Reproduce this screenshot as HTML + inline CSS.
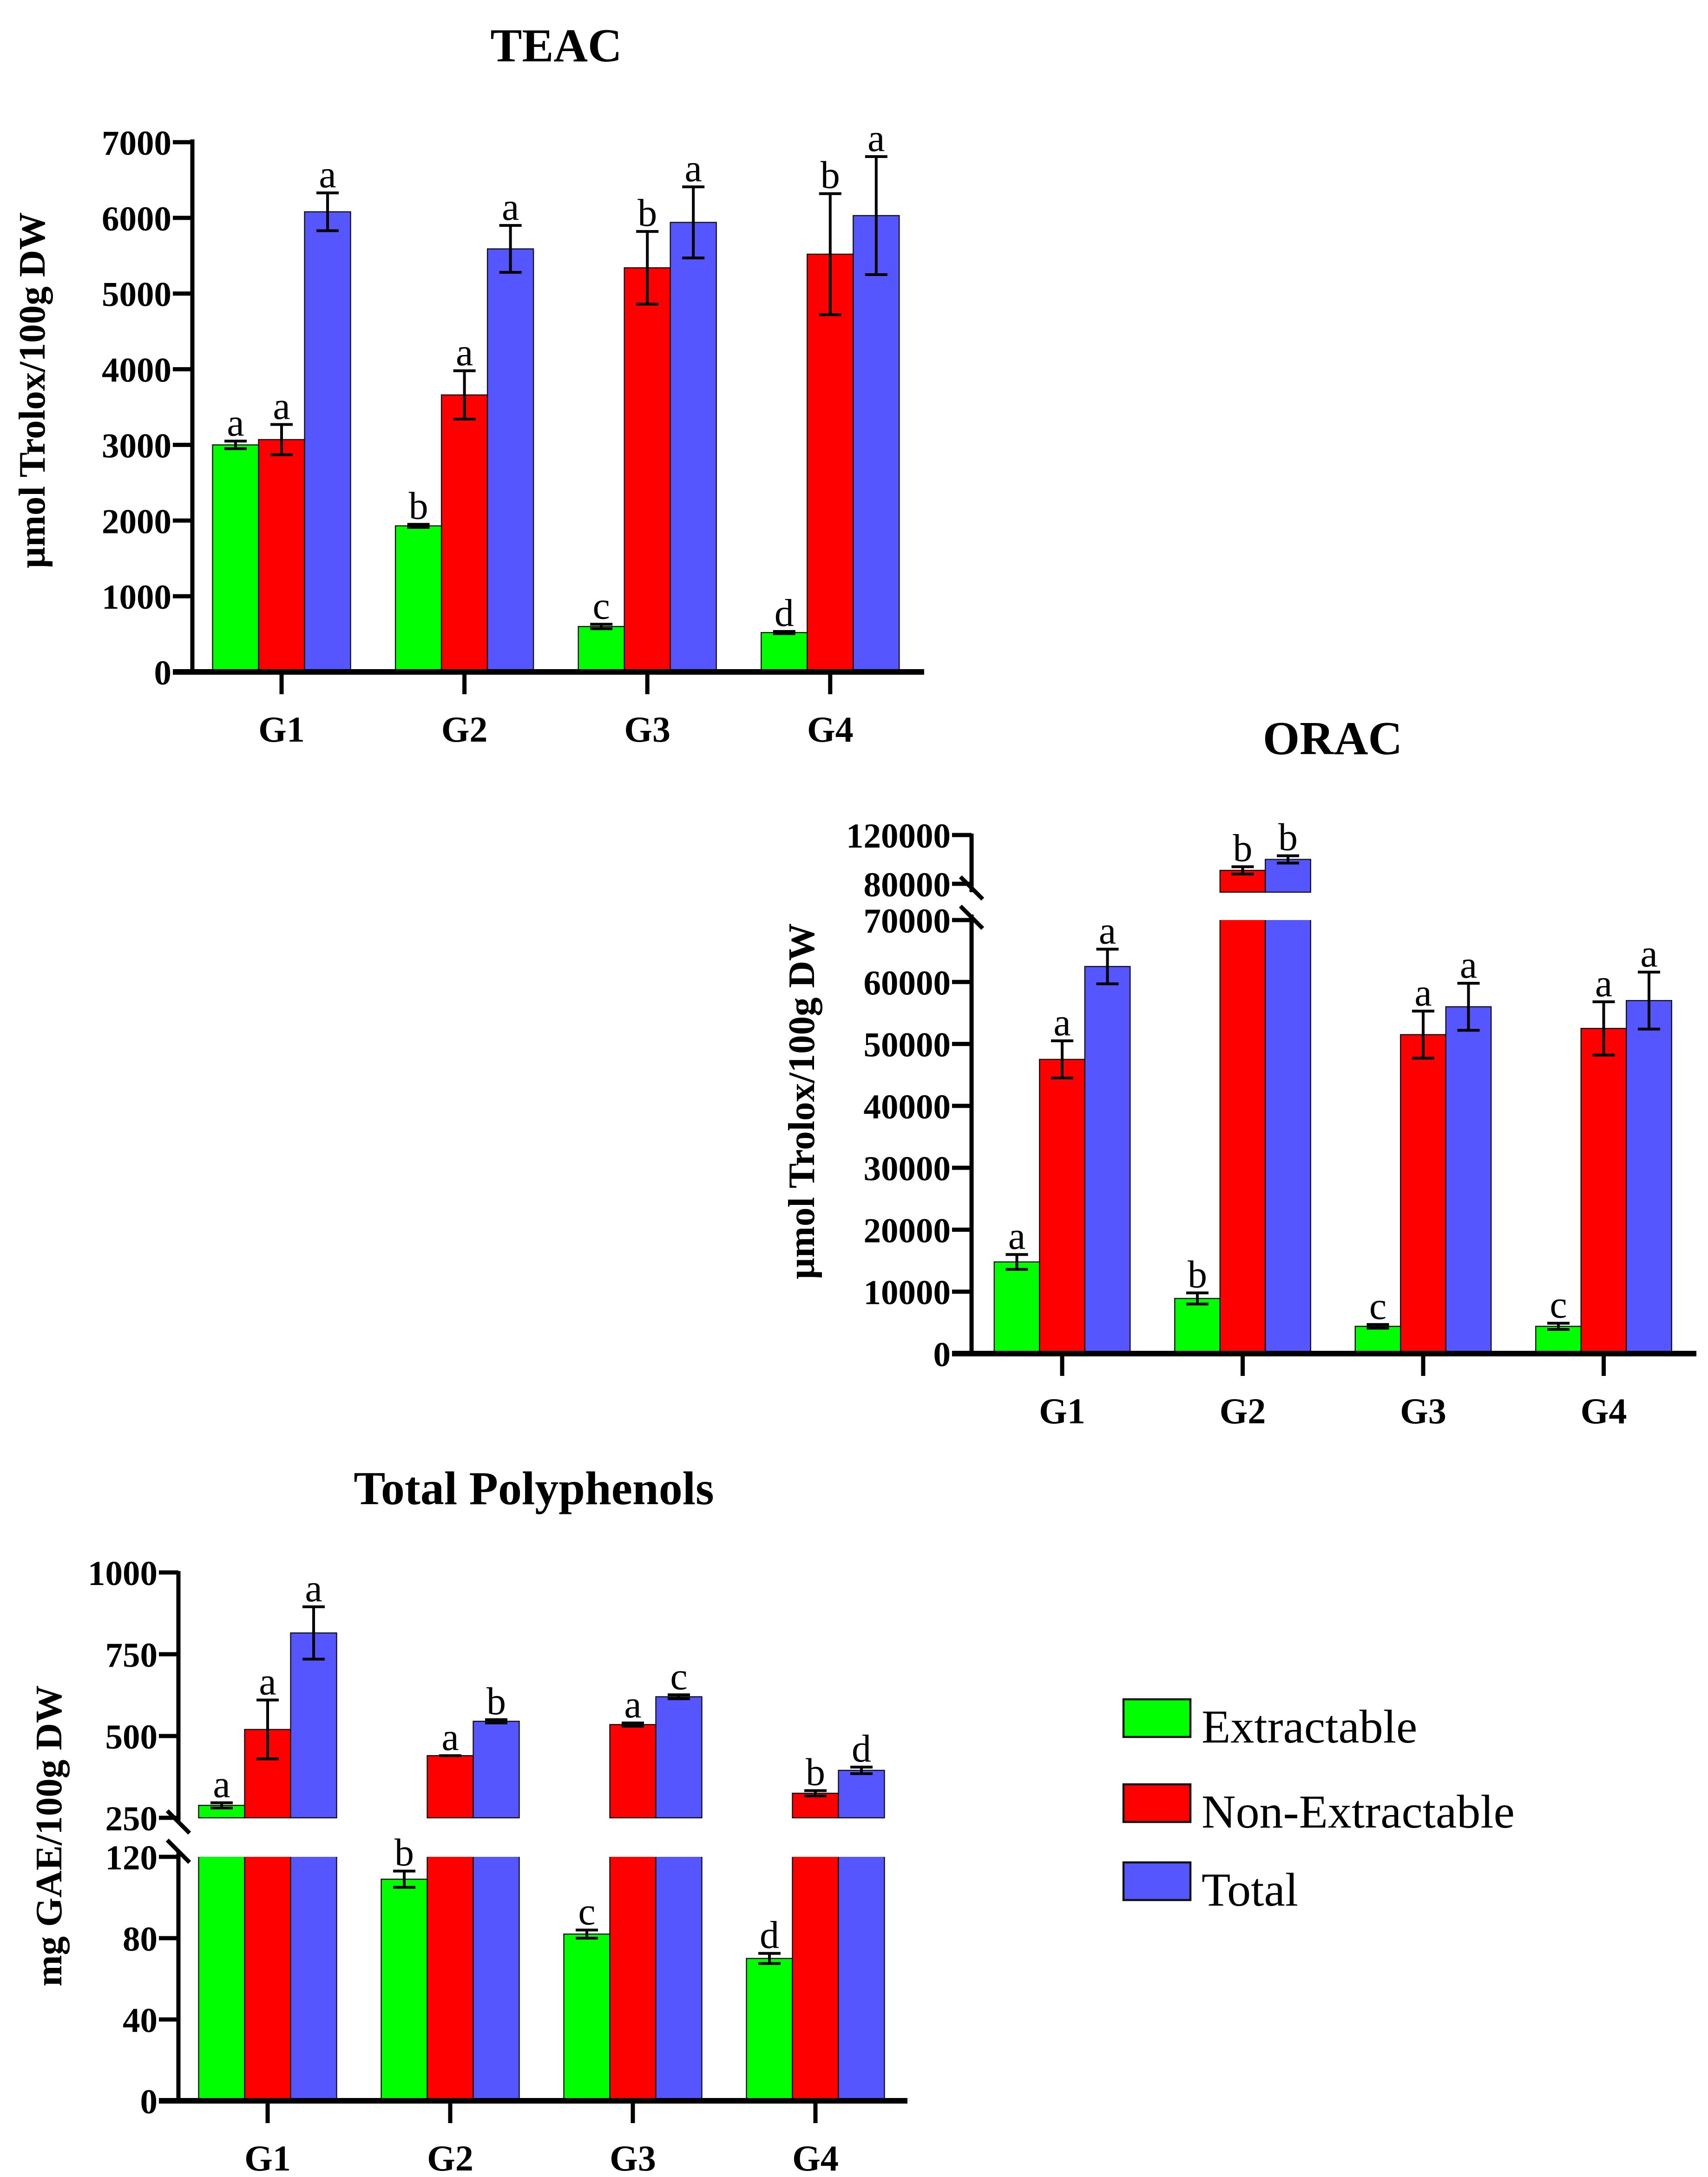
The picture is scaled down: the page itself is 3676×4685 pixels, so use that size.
<!DOCTYPE html>
<html><head><meta charset="utf-8"><style>
html,body{margin:0;padding:0;background:#fff;}
svg{display:block;}
</style></head><body>
<svg id="fig" xmlns="http://www.w3.org/2000/svg" width="3676" height="4685" viewBox="0 0 1225.33 1561.67" font-family="'Liberation Serif', serif"></svg>
<script>
const categories = ['G1','G2','G3','G4'];
// TEAC
const teacExt = [3000, 1930, 600, 520];
const teacExtErr = [50, 20, 30, 15];
const teacNon = [3070, 3660, 5340, 5520];
const teacNonErr = [200, 320, 480, 800];
const teacTot = [6080, 5590, 5940, 6030];
const teacTotErr = [250, 310, 470, 780];
const teacExtLet = ['a','b','c','d'];
const teacNonLet = ['a','a','b','b'];
const teacTotLet = ['a','a','a','a'];
const teacTicks = [0,1000,2000,3000,4000,5000,6000,7000];
// ORAC
const oracExt = [14800, 8900, 4400, 4400];
const oracExtErr = [1200, 900, 300, 500];
const oracNon = [47500, 91000, 51500, 52500];
const oracNonErr = [3000, 3000, 3800, 4300];
const oracTot = [62500, 100000, 56000, 57000];
const oracTotErr = [2800, 3000, 3800, 4600];
const oracExtLet = ['a','b','c','c'];
const oracNonLet = ['a','b','a','a'];
const oracTotLet = ['a','b','a','a'];
const oracTicksLow = [0,10000,20000,30000,40000,50000,60000,70000];
const oracTicksHigh = [80000,120000];
// Total polyphenols
const tpExt = [288, 109, 82, 70];
const tpExtErr = [8, 4, 2, 2.5];
const tpNon = [520, 440, 535, 325];
const tpNonErr = [90, 0, 5, 8];
const tpTot = [815, 545, 620, 395];
const tpTotErr = [80, 5, 6, 10];
const tpExtLet = ['a','b','c','d'];
const tpNonLet = ['a','a','a','b'];
const tpTotLet = ['a','b','c','d'];
const tpTicksLow = [0,40,80,120];
const tpTicksHigh = [250,500,750,1000];

const colors = ['#00ff00','#ff0000','#5656ff'];
const NS = 'http://www.w3.org/2000/svg';
const svg = document.getElementById('fig');
function mk(tag, attrs, parent){
  const e = document.createElementNS(NS, tag);
  for (const k in attrs) e.setAttribute(k, attrs[k]);
  (parent||svg).appendChild(e);
  return e;
}
function segY(seg, v){ return seg.p0 + (v - seg.v0) * (seg.p1 - seg.p0) / (seg.v1 - seg.v0); }

function drawChart(c){
  const g = mk('g', {});
  
  
  const t = mk('text', {x:c.titleX, y:c.titleY, 'text-anchor':'middle', 'font-size':34, 'font-weight':'bold'}, g);
  t.textContent = c.title;
  
  
  const yl = mk('text', {x:0, y:0, 'text-anchor':'middle', 'font-size':27, 'font-weight':'bold', transform:`translate(${c.ylX},${c.ylY}) rotate(-90)`}, g);
  yl.textContent = c.ylabel;
  
  
  const xs = i => c.x0 + i * c.step;
  const series = [[c.ext,c.extErr,c.extLet],[c.non,c.nonErr,c.nonLet],[c.tot,c.totErr,c.totLet]];
  const names = ['extractable','non-extractable','total'];
  series.forEach((s, si) => {
    s[0].forEach((v, i) => {
      const bx = xs(i) + (si - 1.5) * c.bw;
      c.segs.forEach(seg => {
        if (v > seg.v0) {
          const base = seg.base !== undefined ? seg.base : seg.p0;
          const clipped = v > seg.v1;
          const top = segY(seg, Math.min(v, seg.v1));
          const r = mk('rect', {x:bx, y:top, width:c.bw, height:base - top, fill:colors[si], stroke:clipped ? 'none' : '#111', 'stroke-width':0.8}, g);
          
          
          if (clipped) {
            const o = mk('path', {d:`M${bx},${top}V${base}H${bx + c.bw}V${top}`, fill:'none', stroke:'#111', 'stroke-width':0.8}, g);
            
            
          }
        }
      });
      const seg = c.segs.find(sg => v > sg.v0 && v <= sg.v1);
      if (seg) {
        const e = s[1][i];
        const cx = bx + c.bw/2;
        const yt = segY(seg, v + e), yb = segY(seg, v - e);
        const eb = mk('path', {d:`M${cx},${yt}V${yb}M${cx-8},${yt}H${cx+8}M${cx-8},${yb}H${cx+8}`, stroke:'#000', 'stroke-width':2, fill:'none'}, g);
        
        
        const lt = mk('text', {x:cx, y:yt - 4, 'text-anchor':'middle', 'font-size':28}, g);
        lt.textContent = s[2][i];
        
        
      }
    });
  });
  c.segs.forEach(seg => {
    const ax = mk('line', {x1:c.ax, x2:c.ax, y1:seg.a0, y2:seg.a1, stroke:'#000', 'stroke-width':3}, g);
    
    
    seg.ticks.forEach(tv => {
      const y = segY(seg, tv);
      const tk = mk('line', {x1:c.ax - 14, x2:c.ax, y1:y, y2:y, stroke:'#000', 'stroke-width':3}, g);
      
      
      const tl = mk('text', {x:c.ax - 15, y:y + 9, 'text-anchor':'end', 'font-size':25, 'font-weight':'bold'}, g);
      tl.textContent = tv;
      
      
    });
  });
  (c.slashes||[]).forEach(yy => {
    const sl = mk('line', {x1:c.ax - 8, y1:yy - 8, x2:c.ax + 8, y2:yy + 8, stroke:'#000', 'stroke-width':3}, g);
    
    
  });
  const base = c.segs[0].p0;
  const xa = mk('line', {x1:c.ax - 14, x2:c.xEnd, y1:base, y2:base, stroke:'#000', 'stroke-width':4}, g);
  
  
  categories.forEach((cat, i) => {
    const tk = mk('line', {x1:xs(i), x2:xs(i), y1:base, y2:base + 16, stroke:'#000', 'stroke-width':3}, g);
    
    
    const tl = mk('text', {x:xs(i), y:base + 50, 'text-anchor':'middle', 'font-size':26, 'font-weight':'bold'}, g);
    tl.textContent = cat;
    
    
  });
}

drawChart({name:'teac', title:'TEAC', titleX:399, titleY:44, ylabel:'µmol Trolox/100g DW', ylX:32, ylY:280,
  x0:202, step:131.2, bw:33, ax:138, xEnd:663,
  ext:teacExt, extErr:teacExtErr, extLet:teacExtLet, non:teacNon, nonErr:teacNonErr, nonLet:teacNonLet, tot:teacTot, totErr:teacTotErr, totLet:teacTotLet,
  segs:[{v0:0, v1:7000, p0:482, p1:102, a0:483, a1:100, ticks:teacTicks}]});

drawChart({name:'orac', title:'ORAC', titleX:956, titleY:541, ylabel:'µmol Trolox/100g DW', ylX:584, ylY:790,
  x0:762, step:129.5, bw:32.5, ax:697, xEnd:1217,
  ext:oracExt, extErr:oracExtErr, extLet:oracExtLet, non:oracNon, nonErr:oracNonErr, nonLet:oracNonLet, tot:oracTot, totErr:oracTotErr, totLet:oracTotLet,
  segs:[{v0:0, v1:70000, p0:971, p1:660, a0:972, a1:656, ticks:oracTicksLow},
        {v0:80000, v1:120000, p0:634, p1:599, base:640, a0:640, a1:598, ticks:oracTicksHigh}],
  slashes:[637, 658]});

drawChart({name:'total-polyphenols', title:'Total Polyphenols', titleX:383, titleY:1079, ylabel:'mg GAE/100g DW', ylX:44, ylY:1317,
  x0:192, step:131, bw:33, ax:128, xEnd:651,
  ext:tpExt, extErr:tpExtErr, extLet:tpExtLet, non:tpNon, nonErr:tpNonErr, nonLet:tpNonLet, tot:tpTot, totErr:tpTotErr, totLet:tpTotLet,
  segs:[{v0:0, v1:120, p0:1507, p1:1332, a0:1508, a1:1329, ticks:tpTicksLow},
        {v0:250, v1:1000, p0:1304, p1:1128, a0:1306, a1:1127, ticks:tpTicksHigh}],
  slashes:[1307, 1328]});

const legNames = ['Extractable','Non-Extractable','Total'];
const legY = [1219, 1280, 1336];
const lg = mk('g', {});


legNames.forEach((n, i) => {
  const r = mk('rect', {x:806, y:legY[i], width:48, height:27, fill:colors[i], stroke:'#111', 'stroke-width':1.5}, lg);
  
  
  const t = mk('text', {x:862, y:legY[i] + 31, 'font-size':34}, lg);
  t.textContent = n;
  
  
});
</script>
</body></html>
